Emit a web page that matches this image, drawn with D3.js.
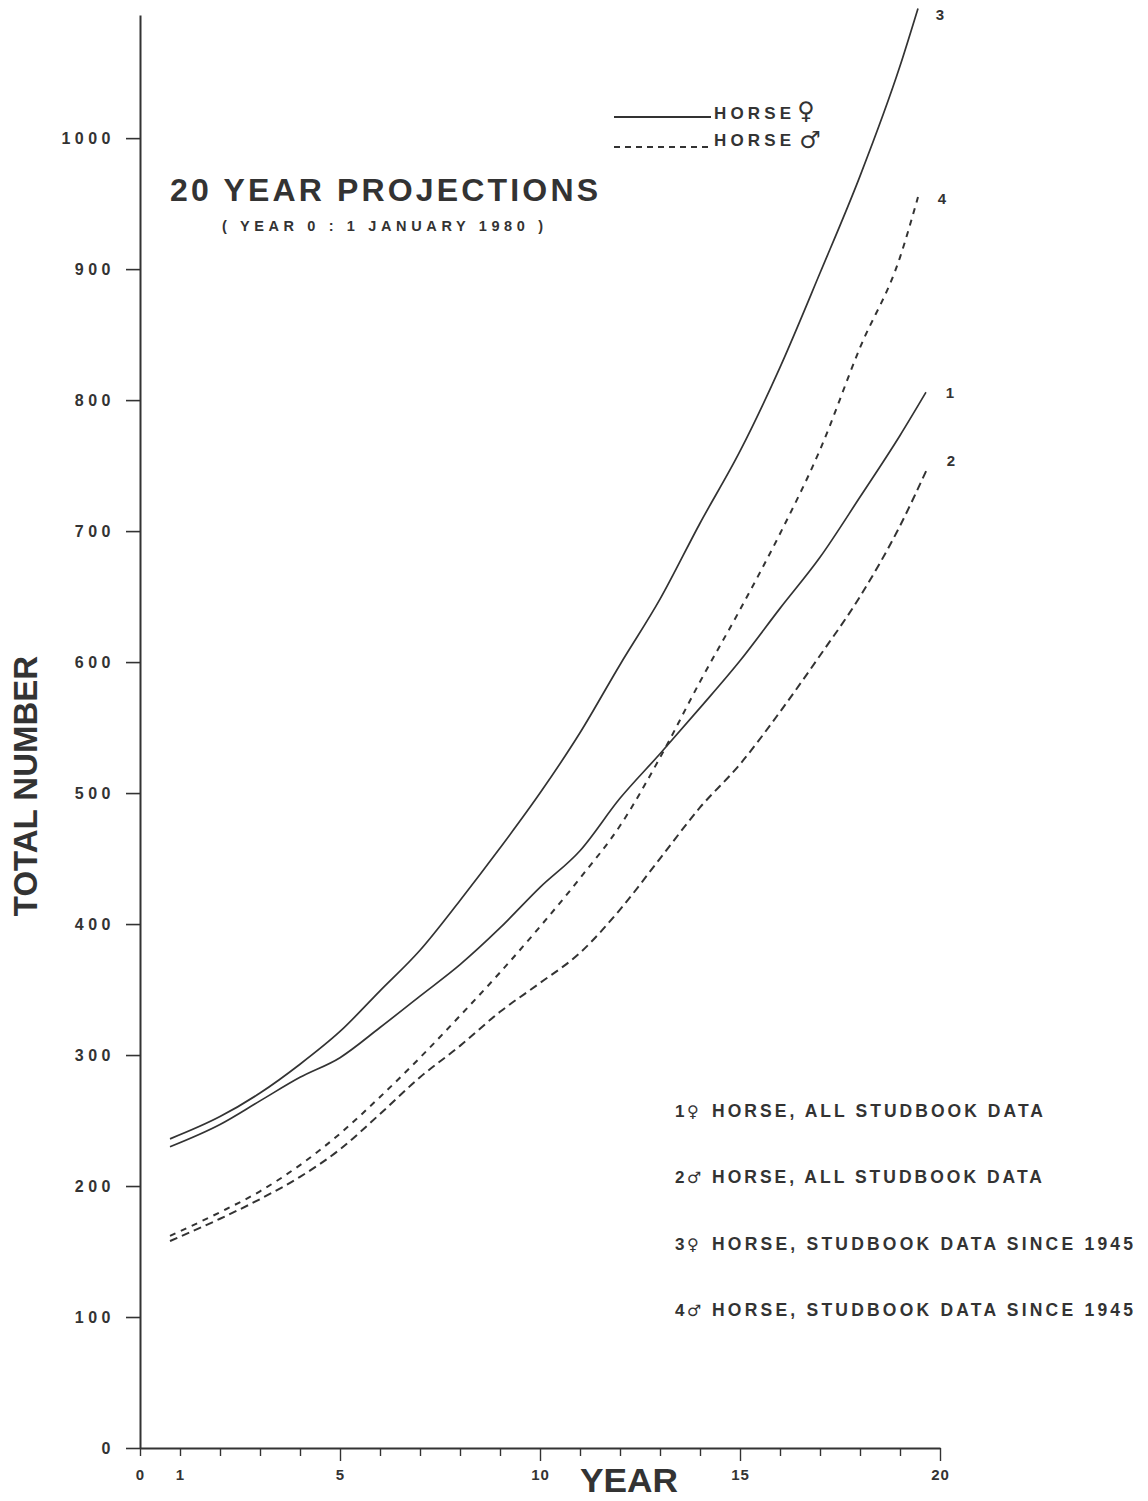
<!DOCTYPE html>
<html>
<head>
<meta charset="utf-8">
<script src="https://cdn.jsdelivr.net/npm/d3@7/dist/d3.min.js"></script>
<style>
  html, body { margin: 0; padding: 0; background: #ffffff; }
  svg { display: block; }
  text { font-family: "Liberation Sans", Arial, sans-serif; font-weight: bold; fill: #333; }
  .sym { font-family: "DejaVu Sans", sans-serif; font-weight: bold; }
</style>
</head>
<body>
<svg id="chart" width="1148" height="1501"></svg>
<script>
// Projected population, years after 1 January 1980
const years = [0.75, 2, 3, 4, 5, 6, 7, 8, 9, 10, 11, 12, 13, 14, 15, 16, 17, 18, 19];

// 1: female, all studbook data
const femaleAll   = [230, 247, 265, 283, 298, 321, 345, 369, 397, 428, 456, 496, 530, 565, 601, 641, 680, 726, 773];
// 2: male, all studbook data
const maleAll     = [158, 175, 190, 207, 228, 255, 283, 307, 333, 355, 378, 411, 450, 489, 522, 562, 605, 650, 704];
// 3: female, studbook data since 1945
const femaleSince = [236, 253, 271, 293, 318, 349, 380, 418, 458, 500, 546, 598, 648, 706, 761, 825, 897, 971, 1055];
// 4: male, studbook data since 1945
const maleSince   = [162, 180, 196, 216, 240, 268, 298, 330, 363, 398, 435, 475, 527, 585, 640, 698, 762, 840, 909];

// final plotted year and value of each curve
const endYears  = [19.65, 19.7, 19.45, 19.45];
const endValues = [806, 749, 1099, 955];

const seriesNames = ["1", "2", "3", "4"];
const seriesValues = [femaleAll, maleAll, femaleSince, maleSince];
const seriesDash = [null, "8,5", null, "6,6"];

const yTicks = [0, 100, 200, 300, 400, 500, 600, 700, 800, 900, 1000];
const xTickLabels = [0, 1, 5, 10, 15, 20];

const legendKey = [
  ["1", "\u2640", "HORSE, ALL STUDBOOK  DATA"],
  ["2", "\u2642", "HORSE, ALL STUDBOOK DATA"],
  ["3", "\u2640", "HORSE, STUDBOOK DATA SINCE 1945"],
  ["4", "\u2642", "HORSE, STUDBOOK DATA SINCE 1945"]
];

const svg = d3.select("#chart");
const ink = "#333";

const x = d3.scaleLinear().domain([0, 20]).range([140, 940]);
const y = d3.scaleLinear().domain([0, 1094]).range([1448, 15]);

// Y axis
const yAxis = svg.append("g")
  .attr("transform", `translate(${x(0)},0)`)
  .call(d3.axisLeft(y).tickValues(yTicks).tickFormat(d3.format("d"))
    .tickSize(14).tickSizeOuter(0).tickPadding(11));
yAxis.select(".domain").attr("stroke", ink).attr("stroke-width", 2);
yAxis.selectAll(".tick line").attr("stroke", ink).attr("stroke-width", 1.6);
yAxis.selectAll(".tick text")
  .style("font-family", "'Liberation Sans', Arial, sans-serif")
  .style("font-weight", "bold").style("font-size", "16px")
  .style("letter-spacing", "4.5px").attr("fill", ink);

// X axis
const xAxis = svg.append("g")
  .attr("transform", `translate(0,${y(0)})`)
  .call(d3.axisBottom(x).tickValues(d3.range(0, 21)).tickSize(9).tickSizeOuter(0).tickPadding(12)
    .tickFormat(d => xTickLabels.includes(d) ? d : ""));
xAxis.select(".domain").attr("stroke", ink).attr("stroke-width", 2.2);
xAxis.selectAll(".tick line").attr("stroke", ink).attr("stroke-width", 1.4)
  .attr("y2", d => d % 5 === 0 && d > 0 ? 13 : 8);
xAxis.selectAll(".tick text")
  .style("font-family", "'Liberation Sans', Arial, sans-serif")
  .style("font-weight", "bold").style("font-size", "15px")
  .style("letter-spacing", "1px").attr("fill", ink);

// Axis titles
svg.append("text")
  .attr("transform", `translate(37,${786}) rotate(-90)`)
  .attr("text-anchor", "middle")
  .style("font-size", "33px")
  .text("TOTAL NUMBER");

svg.append("text")
  .attr("x", 629).attr("y", 1492)
  .attr("text-anchor", "middle")
  .attr("textLength", 98).attr("lengthAdjust", "spacingAndGlyphs")
  .style("font-size", "33px")
  .text("YEAR");

// Curves
const line = d3.line()
  .x(d => x(d[0]))
  .y(d => y(d[1]))
  .curve(d3.curveMonotoneX);

seriesValues.forEach((vals, i) => {
  const pts = years.map((yr, j) => [yr, vals[j]]);
  pts.push([endYears[i], endValues[i]]);
  svg.append("path")
    .datum(pts)
    .attr("fill", "none")
    .attr("stroke", ink)
    .attr("stroke-width", seriesDash[i] ? 2 : 1.7)
    .attr("stroke-dasharray", seriesDash[i])
    .attr("d", line);
});

// Curve numbers at the line ends
const labelOffsets = [[24, 6], [23, -1], [22, 12], [24, 7]];
seriesNames.forEach((name, i) => {
  svg.append("text")
    .attr("x", x(endYears[i]) + labelOffsets[i][0])
    .attr("y", y(endValues[i]) + labelOffsets[i][1])
    .attr("text-anchor", "middle")
    .style("font-size", "15px")
    .text(name);
});

// Title
svg.append("text")
  .attr("x", 170).attr("y", 201)
  .attr("textLength", 428).attr("lengthAdjust", "spacing")
  .style("font-size", "32px")
  .text("20 YEAR PROJECTIONS");
svg.append("text")
  .attr("x", 222).attr("y", 231)
  .attr("textLength", 321).attr("lengthAdjust", "spacing")
  .style("font-size", "14.5px")
  .text("( YEAR 0 : 1 JANUARY 1980 )");

// Line style legend
svg.append("line").attr("x1", 614).attr("x2", 711).attr("y1", 117).attr("y2", 117)
  .attr("stroke", ink).attr("stroke-width", 2);
svg.append("line").attr("x1", 614).attr("x2", 711).attr("y1", 147).attr("y2", 147)
  .attr("stroke", ink).attr("stroke-width", 2).attr("stroke-dasharray", "6,5");
svg.append("text").attr("x", 714).attr("y", 119)
  .attr("textLength", 77).attr("lengthAdjust", "spacing")
  .style("font-size", "17px").text("HORSE");
svg.append("text").attr("x", 714).attr("y", 146)
  .attr("textLength", 77).attr("lengthAdjust", "spacing")
  .style("font-size", "17px").text("HORSE");
svg.append("text").attr("class", "sym").attr("x", 806).attr("y", 119).attr("text-anchor", "middle")
  .style("font-size", "24px").text("\u2640");
svg.append("text").attr("class", "sym").attr("x", 810).attr("y", 148).attr("text-anchor", "middle")
  .style("font-size", "24px").text("\u2642");

// Series key
const keyEnds = [1043, 1042, 1133, 1133];
legendKey.forEach((parts, i) => {
  const ky = 1117 + i * 66.3;
  svg.append("text").attr("x", 675).attr("y", ky)
    .style("font-size", "17px").text(parts[0]);
  svg.append("text").attr("class", "sym").attr("x", 687).attr("y", ky)
    .style("font-size", "16px").text(parts[1]);
  svg.append("text")
    .attr("x", 712).attr("y", ky)
    .attr("textLength", keyEnds[i] - 712).attr("lengthAdjust", "spacing")
    .style("font-size", "17.5px")
    .text(parts[2]);
});
</script>
</body>
</html>
